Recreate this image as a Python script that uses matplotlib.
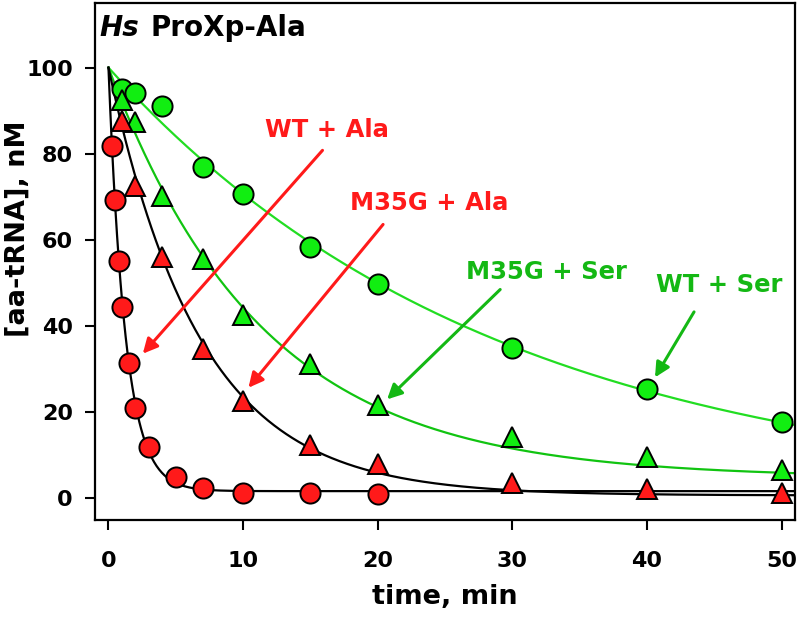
import numpy as np
import matplotlib
matplotlib.use("Agg")
import matplotlib.pyplot as plt
from matplotlib.patches import FancyArrowPatch

plt.rcParams['font.family'] = ['DejaVu Sans']
plt.rcParams['font.weight'] = 'bold'

# ---- data ----
t_wt_ala = [0.25, 0.5, 0.75, 1, 1.5, 2, 3, 5, 7, 10, 15, 20]
v_wt_ala = [81.8, 69.3, 55.2, 44.5, 31.4, 21.0, 12.0, 5.0, 2.5, 1.3, 1.3, 1.0]

t_m35g_ala = [1, 2, 4, 7, 10, 15, 20, 30, 40, 50]
v_m35g_ala = [87.7, 72.6, 56.0, 34.8, 22.6, 12.5, 7.9, 3.6, 2.3, 1.3]

t_m35g_ser = [1, 2, 4, 7, 10, 15, 20, 30, 40, 50]
v_m35g_ser = [92.6, 87.3, 70.3, 55.6, 42.5, 31.3, 21.6, 14.3, 9.6, 6.6]

t_wt_ser = [1, 2, 4, 7, 10, 15, 20, 30, 40, 50]
v_wt_ser = [95.0, 94.0, 91.2, 76.9, 70.6, 58.3, 49.8, 34.9, 25.5, 17.8]

# single-exponential fit parameters: start, rate k (1/min), plateau
fit_wt_ala = (100.0, 0.79, 1.7)
fit_m35g_ala = (100.0, 0.147, 0.7)
fit_m35g_ser = (100.0, 0.088, 4.8)
fit_wt_ser = (100.0, 0.0347, 0.0)

xticks = [0, 10, 20, 30, 40, 50]
yticks = [0, 20, 40, 60, 80, 100]

RED = '#FF1A1A'
LIME = '#11EE11'
LINE_G1 = '#22DD22'
LINE_G2 = '#11C411'
TEXT_G = '#14B814'

fig = plt.figure(figsize=(7.98, 6.18), dpi=100)
ax = fig.add_axes([95/798, 1-520/618, 700/798, 517/618])

tt = np.linspace(0, 51, 800)
def curve(p):
    a, k, c = p
    return c + (a - c) * np.exp(-k * tt)

ax.plot(tt, curve(fit_wt_ser), color=LINE_G1, lw=1.6, zorder=2)
ax.plot(tt, curve(fit_m35g_ser), color=LINE_G2, lw=1.6, zorder=2)
ax.plot(tt, curve(fit_m35g_ala), color='black', lw=1.6, zorder=2)
ax.plot(tt, curve(fit_wt_ala), color='black', lw=1.6, zorder=2)

mk = dict(linestyle='none', markeredgecolor='black', markeredgewidth=1.4, zorder=3)
ax.plot(t_wt_ser, v_wt_ser, marker='o', ms=14.5, markerfacecolor=LIME, **mk)
ax.plot(t_m35g_ser, v_m35g_ser, marker='^', ms=15, markerfacecolor=LIME, **mk)
ax.plot(t_m35g_ala, v_m35g_ala, marker='^', ms=15, markerfacecolor=RED, **mk)
ax.plot(t_wt_ala, v_wt_ala, marker='o', ms=14.5, markerfacecolor=RED, **mk)

# annotations
labels = ['WT + Ala', 'M35G + Ala', 'M35G + Ser', 'WT + Ser']
label_xy = [(16.2, 85.5), (23.8, 68.6), (32.5, 52.5), (45.4, 49.5)]
arrow_tail = [(15.9, 80.8), (20.4, 63.6), (29.1, 48.5), (43.5, 43.3)]
arrow_head = [(2.55, 33.6), (10.4, 25.7), (20.7, 23.0), (40.6, 28.1)]
label_colors = [RED, RED, TEXT_G, TEXT_G]
for lab, xy, tl, hd, c in zip(labels, label_xy, arrow_tail, arrow_head, label_colors):
    ax.text(xy[0], xy[1], lab, color=c, fontsize=17.5, fontweight='bold',
            ha='center', va='center', zorder=5)
    arr = FancyArrowPatch(tl, hd, arrowstyle='-|>', mutation_scale=22,
                          color=c, lw=2.2, shrinkA=0, shrinkB=0, zorder=4)
    ax.add_patch(arr)

ax.text(0.007, 0.936, 'Hs', transform=ax.transAxes, fontsize=20,
        fontweight='bold', fontstyle='italic', ha='left', va='baseline')
ax.text(0.0786, 0.936, 'ProXp-Ala', transform=ax.transAxes,
        fontsize=20, fontweight='bold', ha='left', va='baseline')

ax.set_xlim(-1, 51)
ax.set_ylim(-5, 115)
ax.set_xticks(xticks)
ax.set_yticks(yticks)
ax.tick_params(axis='both', direction='out', length=7, width=1.5, labelsize=16)
ax.tick_params(axis='x', pad=15)
ax.tick_params(axis='y', pad=9)
for lbl in ax.get_xticklabels() + ax.get_yticklabels():
    lbl.set_fontweight('bold')
for s in ax.spines.values():
    s.set_linewidth(1.6)

ax.set_xlabel('time, min', fontsize=19.5, fontweight='bold', labelpad=10)
ax.set_ylabel('[aa-tRNA], nM', fontsize=19.5, fontweight='bold')
ax.yaxis.set_label_coords(-0.092, 0.563)

fig.savefig('out.png', dpi=100)
